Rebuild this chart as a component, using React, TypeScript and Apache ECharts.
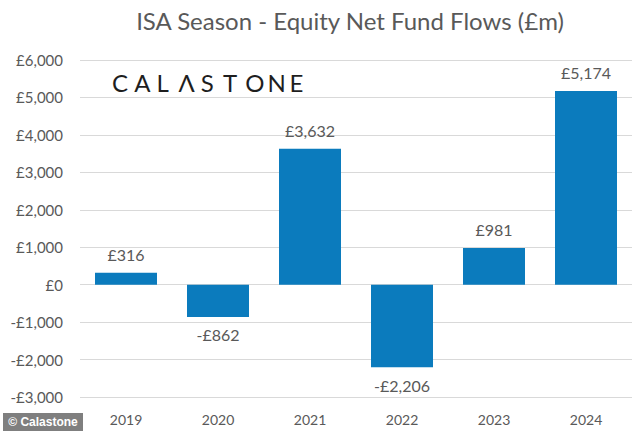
import React, { useEffect, useRef } from "react";
import * as echarts from "echarts";

const years = ["2019", "2020", "2021", "2022", "2023", "2024"];
const flows = [316, -862, 3632, -2206, 981, 5174];
const logoLetters = ["C", "A", "L", "Λ", "S", "T", "O", "N", "E"];

const FONT = "Lato, 'Open Sans', sans-serif";
const GREY = "#595959";

function money(v: number): string {
  const s = Math.abs(v).toLocaleString("en-GB");
  return (v < 0 ? "-£" : "£") + s;
}

export default function App() {
  const ref = useRef<HTMLDivElement>(null);
  useEffect(() => {
    if (!ref.current) return;
    const chart = echarts.init(ref.current, null, { renderer: "svg" });
    const logo = logoLetters.map((ch, i) => ({
      type: "text",
      left: 112 + i * 22.2,
      top: 70,
      style: {
        text: ch,
        fill: "#1e1e1e",
        font: `400 24px ${FONT}`,
      },
    }));
    chart.setOption({
      animation: false,
      backgroundColor: "#ffffff",
      title: {
        text: "ISA Season - Equity Net Fund Flows (£m)",
        left: 345,
        textAlign: "center",
        top: 3,
        textStyle: { color: GREY, fontSize: 24, fontWeight: "normal", fontFamily: FONT },
      },
      grid: { left: 80, right: 2, top: 60, bottom: 36, containLabel: false },
      xAxis: {
        type: "category",
        data: years,
        axisLine: { show: false },
        axisTick: { show: false },
        axisLabel: { color: GREY, fontSize: 14, fontFamily: FONT, margin: 15 },
      },
      yAxis: {
        type: "value",
        min: -3000,
        max: 6000,
        interval: 1000,
        axisLine: { show: false },
        axisTick: { show: false },
        splitLine: { lineStyle: { color: "#d9d9d9", width: 1 } },
        axisLabel: {
          color: GREY,
          fontSize: 15,
          fontFamily: FONT,
          margin: 17,
          formatter: (v: number) => money(v),
        },
      },
      series: [
        {
          type: "bar",
          barWidth: 62,
          itemStyle: { color: "#0b7bbd" },
          data: flows.map((v) => ({
            value: v,
            label: { position: v < 0 ? "bottom" : "top" },
          })),
          label: {
            show: true,
            distance: 10,
            color: GREY,
            fontSize: 16,
            fontFamily: FONT,
            formatter: (p: any) => money(p.value),
          },
        },
      ],
      graphic: [
        ...logo,
        {
          type: "group",
          left: 3,
          top: 413,
          children: [
            { type: "rect", shape: { x: 0, y: 0, width: 80, height: 18 }, style: { fill: "#7f7f7f" } },
            {
              type: "text",
              x: 40,
              y: 9,
              style: {
                text: "© Calastone",
                fill: "#ffffff",
                font: `bold 12px 'Liberation Sans', Arial, sans-serif`,
                textAlign: "center",
                textVerticalAlign: "middle",
              },
            },
          ],
        },
      ],
    });
    return () => chart.dispose();
  }, []);
  return <div ref={ref} style={{ width: 634, height: 433, position: "absolute", left: 0, top: 0 }} />;
}
